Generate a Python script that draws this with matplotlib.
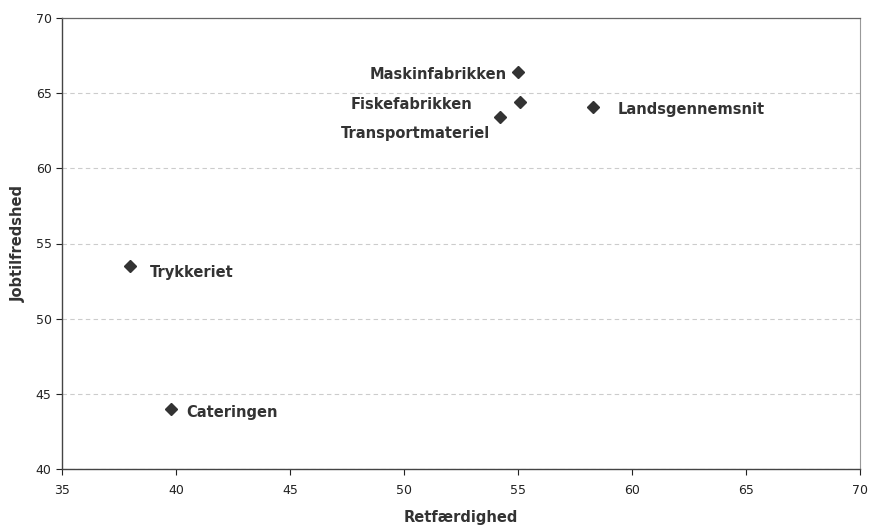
import matplotlib
matplotlib.use('Agg')
import matplotlib.pyplot as plt

# data
names  = ['Maskinfabrikken', 'Fiskefabrikken', 'Transportmateriel',
          'Landsgennemsnit', 'Trykkeriet', 'Cateringen']
retf   = [55.0, 55.1, 54.2, 58.3, 38.0, 39.8]
jobtil = [66.4, 64.4, 63.4, 64.1, 53.5, 44.0]

# label offsets in pixels (dx, dy) and alignment
offsets = [(-11, -2, 'right'), (-48, -2, 'right'), (-10, -16, 'right'),
           (24, -3, 'left'), (19, -6, 'left'), (15, -4, 'left')]

plt.rcParams['font.family'] = ['DejaVu Sans']

fig = plt.figure(figsize=(8.7, 5.27), dpi=100)
ax = fig.add_axes([62/870, 1-469/527, (860-62)/870, (469-18)/527])

ax.plot(retf, jobtil, linestyle='none', marker='D', markersize=6.5,
        color='#333333', zorder=3)

for n, x, y, (dx, dy, ha) in zip(names, retf, jobtil, offsets):
    ax.annotate(n, (x, y), xytext=(dx, dy), textcoords='offset pixels',
                ha=ha, va='center', fontsize=10.5, fontweight='bold',
                color='#333333')

ax.set_xlim(35, 70)
ax.set_ylim(40, 70)
ax.set_xticks(range(35, 71, 5))
ax.set_yticks(range(40, 71, 5))
ax.tick_params(labelsize=9, colors='#222222', length=4, width=0.8)
ax.tick_params(axis='x', pad=7)
ax.yaxis.grid(True, linestyle=(0, (4, 3)), color='#cccccc', linewidth=0.8)
ax.set_axisbelow(True)

for s in ['left', 'bottom']:
    ax.spines[s].set_color('#444444')
    ax.spines[s].set_linewidth(1.0)
ax.spines['top'].set_color('#666666')
ax.spines['top'].set_linewidth(0.9)
ax.spines['right'].set_color('#999999')
ax.spines['right'].set_linewidth(0.8)

ax.set_xlabel('Retfærdighed', fontsize=10.5, fontweight='bold',
              color='#333333', labelpad=9)
ax.set_ylabel('Jobtilfredshed', fontsize=10.5, fontweight='bold',
              color='#333333', labelpad=7)

plt.savefig('out.png', dpi=100)
